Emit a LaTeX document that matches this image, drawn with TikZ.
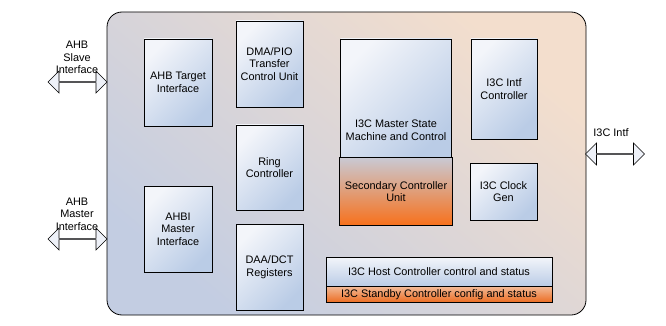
\documentclass[tikz,border=0pt]{standalone}
\usepackage{fontspec}
\setmainfont{Liberation Sans}
\usepackage{xcolor}
\usepackage{tikz}
\usetikzlibrary{shapes.arrows}
\usetikzlibrary{positioning}

\definecolor{chipblue}{HTML}{C3CDE2}
\definecolor{chippeach}{HTML}{F3DECD}
\definecolor{boxlight}{HTML}{F3F5FA}
\definecolor{boxdark}{HTML}{BACCE6}
\definecolor{secgrey}{HTML}{C9C9D3}
\definecolor{secorange}{HTML}{F8701A}
\definecolor{barorange}{HTML}{EC6A1E}
\definecolor{barlight}{HTML}{F2B894}
\definecolor{arrowfill}{HTML}{EEF1F8}

\begin{document}
\begin{tikzpicture}[x=1pt, y=-1pt,
  font=\fontsize{10.9}{12.5}\selectfont,
  chip/.style={draw, line width=0.8pt, rounded corners=15pt, shade,
    top color=chippeach, bottom color=chipblue, shading angle=-40,
    minimum width=479pt, minimum height=303pt, inner sep=0pt},
  blk/.style={draw, line width=0.8pt, shade, top color=boxlight,
    bottom color=boxdark, shading angle=45, align=center, inner sep=1pt},
  orblk/.style={draw, line width=0.8pt, shade, top color=secgrey,
    bottom color=secorange, align=center, inner sep=1pt},
  orbar/.style={draw, line width=0.8pt, shade, top color=barlight,
    bottom color=barorange, align=center, inner sep=0pt},
  bus/.style={double arrow, draw, line width=0.6pt, fill=arrowfill,
    minimum height=59pt, minimum width=22pt, double arrow head extend=5pt,
    double arrow tip angle=90, inner sep=0pt},
  lbl/.style={align=center, inner sep=0pt}]
  \useasboundingbox (0,0) rectangle (666,326);

  % ===== Outer block =====
  \node[chip] (core) at (346.5,163.5) {};

  % ===== Left column =====
  \node[blk, minimum width=68pt, minimum height=87pt] (tgt) at (178,82.5) {AHB Target\\Interface};
  \node[blk, minimum width=68pt, minimum height=86pt] (mst) at (178,229) {AHBI\\Master\\Interface};

  % ===== Middle column =====
  \node[blk, minimum width=67pt, minimum height=86pt] (dma) at (269.5,64) {DMA/PIO\\Transfer\\Control Unit};
  \node[blk, minimum width=67pt, minimum height=85pt] (ring) at (269.5,167.5) {Ring\\Controller};
  \node[blk, minimum width=67pt, minimum height=86pt] (daa) at (269.5,267) {DAA/DCT\\Registers};

  % ===== State machine + secondary unit =====
  \node[blk, minimum width=111pt, minimum height=118pt] (msm) at (396,98) {};
  \node[lbl, anchor=south] (msmtxt) at ([yshift=17pt]msm.south) {I3C Master State\\Machine and Control};
  \node[orblk, minimum width=113pt, minimum height=68pt, below=0pt of msm] (sec) {Secondary Controller\\Unit};

  % ===== Right column =====
  \node[blk, minimum width=66pt, minimum height=100pt] (intf) at (504,89) {I3C Intf\\Controller};
  \node[blk, minimum width=67pt, minimum height=57pt] (clk) at (503.5,191.5) {I3C Clock\\Gen};

  % ===== Status bars =====
  \node[blk, shading angle=0, minimum width=226pt, minimum height=29pt] (host) at (439,271.5) {I3C Host Controller control and status};
  \node[orbar, minimum width=226pt, minimum height=16pt, below=0pt of host] (stby) {I3C Standby Controller config and status};

  % ===== Buses =====
  \node[bus] (slvbus) at (77.5,82) {};
  \node[bus] (mstbus) at (77.5,239) {};
  \node[bus] (i3cbus) at (615,154) {};
  \node[lbl] (slvlbl) at (77,57.5) {AHB\\Slave\\Interface};
  \node[lbl] (mstlbl) at (77,214) {AHB\\Master\\Interface};
  \node[lbl] (i3clbl) at (611,133) {I3C Intf};
\end{tikzpicture}
\end{document}
